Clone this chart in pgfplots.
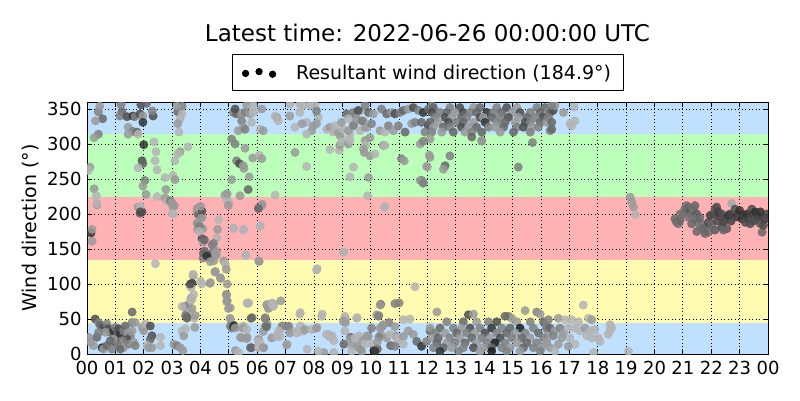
\documentclass[border=0pt]{standalone}
\usepackage{pgfplots}
\usepackage{pgfplotstable}
\pgfplotsset{compat=1.18}
\usepackage{fontspec}
\setmainfont{DejaVu Sans}
\definecolor{bandblue}{RGB}{191,224,255}
\definecolor{bandgreen}{RGB}{187,255,187}
\definecolor{bandred}{RGB}{255,178,180}
\definecolor{bandyellow}{RGB}{255,251,176}

\pgfplotstableread{
x y c
0.10 267 .6
0.05 262 .7
0.25 236 .6
0.33 226 .7
0.35 213 .6
0.14 173 .2
0.18 178 .6
0.18 161 .6
0.40 346 .5
0.55 336 .4
0.30 333 .6
0.45 354 .6
0.40 314 .5
0.25 309 .6
1.23 346 .4
1.16 340 .5
1.41 339 .3
1.62 340 .2
1.69 339 .5
1.87 343 .3
1.97 340 .6
2.33 340 .3
1.20 356 .5
1.90 356 .3
2.10 358 .4
2.30 347 .5
1.45 324 .6
1.62 318 .5
1.76 317 .4
1.45 314 .6
1.80 314 .7
1.97 331 .2
2.00 299 .2
2.36 303 .7
1.94 276 .3
1.97 272 .4
1.80 266 .7
2.43 289 .7
2.40 276 .7
2.47 263 .7
2.04 248 .5
1.97 240 .6
2.08 228 .6
2.47 225 .7
2.75 252 .7
2.78 235 .6
3.03 255 .7
3.10 249 .6
2.75 223 .6
2.82 218 .7
2.93 219 .5
3.00 215 .6
3.03 210 .6
3.00 201 .7
1.80 210 .6
1.87 201 .4
1.94 203 .3
3.20 346 .4
3.35 354 .5
3.17 354 .6
3.35 343 .7
3.28 336 .7
3.20 329 .6
3.24 317 .7
3.10 276 .7
3.28 289 .6
3.20 286 .7
3.56 296 .7
2.41 129 .7
3.88 208 .6
3.90 201 .5
4.05 196 .6
3.98 183 .7
3.90 186 .5
4.08 179 .6
4.05 165 .3
4.09 137 .5
4.09 160 .6
3.74 112 .6
3.63 98 .6
3.70 101 .2
3.67 80 .6
3.56 70 .6
3.63 75 .7
3.45 68 .5
3.52 61 .6
3.63 61 .7
3.49 54 .4
3.52 51 .5
3.77 51 .7
3.70 65 .6
3.35 68 .7
1.59 60 .4
0.29 50 .3
0.41 45 .5
0.47 41 .4
0.59 38 .3
0.70 43 .5
0.76 36 .3
0.82 31 .4
0.65 31 .6
0.94 33 .2
1.00 38 .5
1.12 36 .3
1.06 26 .4
1.17 28 .2
1.29 33 .5
1.35 40 .4
1.47 31 .6
1.53 26 .5
1.59 33 .6
1.41 21 .3
1.23 19 .5
1.00 17 .3
0.94 21 .6
0.82 19 .4
1.12 12 .5
1.29 9 .6
1.47 14 .5
1.64 17 .6
1.70 12 .5
1.59 45 .5
1.70 45 .6
0.06 24 .6
0.12 17 .6
0.23 12 .6
0.35 24 .4
0.41 31 .5
0.53 9 .2
0.59 7 .6
0.70 12 .4
0.88 7 .5
1.17 7 .4
1.94 38 .6
2.00 33 .6
2.06 43 .7
2.23 40 .3
2.29 26 .3
2.23 21 .4
2.12 12 .7
2.17 9 .6
2.29 9 .6
2.59 12 .7
2.59 24 .7
3.06 14 .6
3.17 12 .5
3.29 9 .6
3.38 5 .6
3.35 33 .7
3.41 26 .6
3.47 36 .7
3.80 38 .6
3.47 55 .5
3.53 52 .4
3.82 55 .6
3.70 78 .7
3.76 85 .7
3.67 95 .7
3.74 114 .7
3.64 100 .3
4.00 104 .7
4.05 100 .7
4.35 102 .6
4.52 118 .6
4.70 109 .6
4.82 133 .6
4.88 128 .7
4.91 121 .6
4.94 100 .6
4.91 85 .5
4.94 76 .5
5.05 66 .6
5.05 50 .7
5.05 40 .5
5.17 41 .2
5.23 5 .6
5.35 2 .7
5.41 38 .7
5.52 40 .7
5.41 24 .6
5.64 24 .6
5.64 73 .7
5.70 73 .7
5.76 9 .4
5.82 52 .5
6.05 21 .6
6.11 14 .7
6.23 9 .6
6.29 40 .5
6.35 43 .6
6.29 52 .6
6.35 71 .7
6.41 66 .6
6.53 73 .7
6.59 71 .7
6.70 26 .6
6.82 36 .7
6.88 40 .5
6.76 33 .7
7.05 14 .7
7.11 40 .6
7.23 33 .7
7.47 33 .7
7.52 59 .7
7.52 40 .7
7.64 33 .7
7.76 7 .7
8.11 38 .7
8.29 57 .7
8.35 2 .6
8.52 28 .7
8.64 26 .7
8.70 19 .7
8.70 2 .7
9.05 14 .4
9.11 50 .6
9.11 45 .6
9.29 24 .4
9.35 12 .6
9.52 52 .7
9.40 19 .7
9.58 26 .7
9.64 7 .4
9.70 19 .6
9.87 26 .6
10.05 14 .7
10.11 5 .2
10.23 7 .3
10.29 55 .6
10.35 71 .4
10.41 40 .5
10.35 28 .6
10.58 26 .7
10.64 45 .5
10.70 12 .4
10.88 26 .6
10.94 19 .7
11.00 73 .5
10.29 24 .5
10.23 17 .6
0.35 215 .7
1.88 211 .7
1.88 203 .3
3.06 200 .7
3.08 212 .6
3.00 216 .6
3.88 204 .6
3.94 199 .4
3.88 187 .6
3.90 178 .6
3.97 182 .5
4.00 206 .7
4.05 204 .3
4.03 194 .6
4.00 211 .6
3.96 175 .7
4.14 163 .4
4.14 147 .4
4.17 144 .5
4.23 140 .6
4.29 142 .4
4.35 137 .3
4.47 133 .6
4.47 147 .5
4.41 156 .5
4.56 147 .6
4.56 142 .6
4.64 192 .7
4.60 178 .6
4.58 166 .7
4.52 142 .6
4.10 144 .4
4.22 140 .2
4.34 132 .6
4.46 158 .5
4.94 220 .7
5.00 216 .7
5.17 180 .7
5.52 178 .7
5.60 142 .7
6.05 208 .5
6.17 214 .6
6.11 183 .7
6.05 133 .6
8.11 122 .7
9.05 146 .7
10.50 211 .7
5.16 345 .5
5.27 343 .4
5.22 350 .3
5.45 343 .6
5.57 345 .5
5.74 343 .6
5.86 345 .7
5.63 355 .6
5.86 355 .7
6.16 350 .6
5.45 333 .5
5.51 324 .6
5.33 319 .6
5.57 321 .5
5.80 331 .7
6.10 321 .7
6.21 319 .6
6.69 338 .6
6.74 333 .7
6.63 340 .7
7.15 340 .6
7.15 357 .7
7.50 357 .7
7.50 345 .7
7.62 355 .7
7.86 355 .7
7.74 331 .7
7.57 329 .6
7.33 324 .7
7.92 319 .6
7.74 314 .7
7.98 326 .6
8.15 338 .7
8.04 355 .7
8.09 347 .5
8.45 321 .7
8.68 319 .7
8.92 312 .6
9.27 314 .7
9.39 328 .6
9.45 342 .5
9.62 347 .7
9.74 333 .6
9.86 323 .7
9.97 309 .6
5.10 307 .5
5.22 300 .5
5.57 294 .6
5.27 276 .5
5.37 272 .3
5.51 269 .6
5.53 265 .6
5.84 280 .6
6.07 284 .7
6.16 279 .6
5.72 253 .6
5.10 249 .6
5.68 235 .4
5.39 226 .6
4.86 227 .6
4.92 222 .7
4.94 229 .6
4.98 212 .6
6.16 212 .6
6.04 208 .4
6.63 227 .7
7.33 288 .6
7.74 268 .7
5.16 179 .7
5.51 177 .7
6.10 182 .7
5.60 141 .7
6.07 132 .6
4.51 117 .6
4.71 108 .6
4.33 101 .6
4.92 84 .6
4.92 75 .6
4.98 65 .6
5.04 51 .6
5.10 37 .5
5.16 39 .2
5.22 37 .6
5.66 72 .7
6.33 70 .6
6.39 65 .6
6.51 72 .7
6.57 68 .7
6.83 76 .6
5.78 51 .4
6.27 51 .5
7.50 57 .7
5.51 37 .6
5.63 35 .7
5.45 23 .6
5.63 22 .6
5.80 9 .4
6.04 18 .7
6.04 9 .7
6.21 9 .6
6.21 32 .6
6.33 39 .4
6.51 23 .6
6.80 25 .7
6.69 25 .7
7.09 39 .5
7.15 30 .6
7.39 30 .7
7.50 32 .7
7.68 35 .6
7.04 13 .6
7.92 35 .7
8.09 37 .7
9.15 343 .4
9.39 345 .5
9.56 348 .3
9.80 355 .5
9.92 345 .4
10.09 343 .6
10.38 350 .5
10.56 343 .4
10.74 345 .6
10.85 343 .3
11.03 345 .5
11.15 348 .4
11.32 350 .6
11.50 352 .3
11.68 348 .5
11.85 345 .2
12.03 350 .4
12.15 355 .5
8.56 324 .6
8.68 317 .7
8.86 317 .6
9.03 321 .7
9.21 319 .6
9.39 326 .5
9.62 319 .7
9.80 324 .6
10.03 329 .5
10.33 319 .6
10.50 317 .7
10.62 326 .5
10.80 319 .6
10.97 326 .5
11.21 317 .4
11.44 329 .6
11.56 331 .5
11.79 331 .4
12.03 326 .3
11.91 317 .5
8.09 329 .6
8.74 326 .7
8.97 331 .6
9.21 336 .7
9.50 336 .6
9.68 333 .5
8.56 292 .7
8.89 291 .7
8.91 298 .6
8.97 303 .7
9.13 305 .7
9.21 300 .6
9.27 305 .7
9.77 288 .6
9.80 305 .6
9.82 298 .7
9.74 293 .6
9.97 283 .6
10.15 286 .7
9.39 267 .7
9.27 253 .7
9.92 252 .6
9.89 226 .7
10.44 298 .6
10.50 298 .7
11.08 279 .5
11.18 276 .6
11.79 248 .4
11.85 245 .6
12.00 267 .7
10.48 209 .7
9.03 145 .7
8.09 120 .7
11.56 96 .7
10.85 72 .5
10.33 70 .6
10.21 56 .6
10.27 54 .5
9.50 51 .7
9.09 54 .7
9.03 47 .6
8.27 54 .7
11.15 49 .7
11.38 50 .7
8.09 37 .6
8.44 28 .7
8.56 24 .7
9.09 33 .7
9.27 21 .6
9.45 23 .7
9.50 11 .6
9.80 14 .7
9.92 25 .6
10.03 37 .5
10.21 7 .5
10.33 37 .6
10.44 42 .6
10.56 23 .6
10.68 28 .7
10.85 39 .6
10.97 23 .7
11.15 25 .6
11.32 33 .6
11.50 28 .6
11.62 18 .4
11.79 11 .2
11.97 18 .5
12.09 33 .4
9.33 4 .7
9.68 4 .6
10.15 4 .2
10.85 11 .5
11.15 14 .7
8.15 4 .7
12.21 352 .4
12.79 352 .5
13.14 352 .3
13.62 352 .6
13.85 352 .4
14.44 352 .5
14.79 352 .3
15.15 352 .6
15.85 352 .5
16.14 352 .4
12.15 345 .3
12.44 345 .5
12.68 345 .4
12.97 345 .6
13.26 345 .3
13.50 345 .5
13.73 345 .4
14.09 345 .2
14.32 345 .5
14.62 345 .4
14.97 345 .6
15.26 345 .3
15.62 345 .5
15.97 345 .4
16.26 345 .6
12.27 338 .5
12.62 338 .3
12.85 338 .6
13.20 338 .4
13.38 338 .5
13.85 338 .3
13.97 338 .6
14.26 338 .4
14.56 338 .5
14.85 338 .3
15.20 338 .6
15.50 338 .4
15.79 338 .5
16.09 338 .3
12.09 331 .4
12.38 331 .6
12.74 331 .3
13.03 331 .5
13.26 331 .4
13.62 331 .6
14.03 331 .2
14.44 331 .5
14.74 331 .4
15.09 331 .6
15.44 331 .3
15.62 331 .5
15.97 331 .4
16.20 331 .6
12.21 324 .6
12.56 324 .4
12.79 324 .5
13.20 324 .3
13.44 324 .6
13.73 324 .4
14.15 324 .5
14.38 324 .6
14.68 324 .4
15.15 324 .5
15.38 324 .3
15.68 324 .6
15.91 324 .5
12.15 317 .5
12.50 317 .6
12.91 317 .4
13.32 317 .6
13.56 317 .5
13.91 317 .4
14.56 317 .6
15.03 317 .4
15.62 317 .5
12.09 307 .6
13.91 305 .5
13.56 310 .4
12.09 281 .6
12.79 283 .5
12.62 269 .4
12.56 264 .6
15.20 267 .5
11.74 248 .6
11.85 244 .5
12.06 284 .6
11.97 268 .6
13.91 304 .6
15.70 302 .5
11.74 300 .6
11.85 304 .5
12.33 60 .6
13.44 56 .3
13.62 57 .6
15.44 62 .6
15.85 60 .5
15.97 57 .6
14.85 54 .5
14.97 51 .6
14.73 54 .4
12.68 46 .5
13.26 46 .4
13.73 46 .6
14.15 46 .5
14.44 46 .3
15.15 46 .6
15.62 46 .5
16.09 46 .4
12.09 37 .6
12.44 37 .4
12.91 37 .5
13.20 37 .6
13.50 37 .3
13.85 37 .5
14.26 37 .2
14.62 37 .5
14.91 37 .4
15.26 37 .1
15.73 37 .5
16.20 37 .4
12.27 30 .5
12.62 30 .6
13.03 30 .4
13.38 30 .5
13.67 30 .6
14.03 30 .3
14.44 30 .5
14.79 30 .4
15.09 30 .6
15.44 30 .5
15.91 30 .4
16.26 30 .6
12.15 23 .6
12.38 23 .4
12.79 23 .5
13.14 23 .6
13.56 23 .4
13.91 23 .5
14.20 23 .6
14.56 23 .3
14.97 23 .5
15.32 23 .4
15.62 23 .6
16.09 23 .5
12.33 16 .4
12.68 16 .6
12.97 16 .5
13.32 16 .4
13.73 16 .6
14.09 16 .5
14.38 16 .1
14.73 16 .5
15.15 16 .6
15.50 16 .4
15.85 16 .5
16.20 16 .6
12.21 9 .5
12.56 9 .4
12.85 9 .6
13.26 9 .5
13.62 9 .3
13.97 9 .6
14.26 9 .4
14.62 9 .5
14.91 9 .6
15.38 9 .4
15.73 9 .5
16.03 9 .6
12.44 4 .2
13.09 4 .5
13.85 4 .6
14.26 4 .1
14.79 4 .5
15.26 4 .6
15.97 4 .5
16.32 345 .4
16.43 348 .3
16.26 338 .5
16.38 331 .4
16.32 319 .5
16.38 321 .4
16.79 345 .6
17.17 353 .7
17.20 333 .7
17.02 329 .7
17.08 326 .7
16.49 355 .6
16.38 355 .5
19.14 224 .6
19.20 217 .6
19.26 210 .6
19.32 199 .7
17.49 70 .7
16.26 49 .5
16.61 51 .6
16.85 49 .7
17.08 49 .7
17.32 46 .7
17.67 51 .7
17.79 49 .6
18.43 42 .7
18.49 37 .7
16.20 40 .5
16.32 37 .4
16.49 33 .6
16.67 37 .5
16.79 30 .6
16.96 37 .7
17.20 37 .7
17.38 33 .7
17.55 37 .6
17.73 33 .7
17.90 35 .7
17.61 26 .7
17.79 23 .7
18.02 23 .7
18.37 28 .7
18.43 33 .7
18.08 18 .7
16.43 26 .5
16.73 23 .6
17.02 23 .7
17.20 14 .7
16.20 18 .6
16.32 9 .6
16.49 4 .7
16.96 11 .6
17.85 2 .7
19.08 4 .7
16.61 14 .6
20.72 193 .4
20.78 188 .4
20.84 186 .45
20.90 191 .4
21.07 207 .4
21.13 212 .45
21.19 210 .4
21.25 203 .35
21.31 198 .4
21.37 207 .45
21.43 212 .4
21.49 200 .35
21.43 193 .45
21.54 188 .4
21.60 184 .5
21.66 186 .45
21.72 179 .4
21.78 177 .45
21.84 181 .4
21.90 174 .45
21.78 172 .4
21.49 175 .4
21.90 188 .3
21.96 198 .25
22.07 200 .3
22.13 207 .35
22.19 210 .3
22.25 203 .25
22.31 196 .2
22.37 200 .3
22.43 188 .25
22.49 193 .3
22.55 179 .35
22.37 181 .3
22.43 177 .4
22.60 198 .2
22.66 200 .25
22.72 215 .65
22.84 207 .3
22.90 196 .2
22.96 200 .25
23.02 198 .3
23.08 193 .2
23.14 198 .25
23.20 188 .3
23.26 200 .2
23.31 193 .25
23.43 207 .3
23.49 200 .25
23.55 203 .2
23.61 193 .3
23.67 196 .25
23.73 186 .35
23.79 174 .4
23.84 184 .3
23.90 193 .25
23.96 200 .3
23.73 203 .2
23.37 186 .3
22.02 186 .4
22.13 177 .35
21.31 186 .4
21.00 200 .4
21.20 195 .45
22.70 190 .25
23.00 205 .2
23.50 190 .3
22.20 190 .3
21.60 195 .4
20.90 200 .45
}\winddata

\begin{document}
\begin{tikzpicture}
\path (0,0) rectangle (800pt,400pt);
\begin{axis}[
  at={(87pt,46pt)}, anchor=south west,
  scale only axis, width=681pt, height=252pt,
  xmin=0, xmax=24, ymin=0, ymax=360,
  set layers=standard,
  xtick={0,1,...,24},
  xticklabels={00,01,02,03,04,05,06,07,08,09,10,11,12,13,14,15,16,17,18,19,20,21,22,23,00},
  ytick={0,50,...,350},
  tick label style={font=\fontsize{18}{20}\selectfont},
  xticklabel style={yshift=-4pt},
  yticklabel style={xshift=-2pt},
  /pgf/number format/assume math mode=true,
  tick align=inside, major tick length=5pt,
  every tick/.style={black, line width=0.8pt},
  grid=major,
  major grid style={black, line width=0.8pt, dash pattern=on 1pt off 2.5pt},
  axis line style={black, line width=1pt},
  ylabel={Wind direction (°)},
  ylabel style={font=\fontsize{19}{22}\selectfont, at={(axis description cs:-0.083,0.5)}, anchor=center},
  colormap={grays}{gray(0cm)=(0); gray(1cm)=(1)},
  point meta min=0, point meta max=1,
  clip marker paths=true,
  legend style={at={(0.5,1)}, anchor=south, yshift=11pt, draw=black, line width=0.8pt,
    font=\fontsize{19}{22}\selectfont, inner xsep=10pt, inner ysep=8pt,
    /tikz/every odd column/.append style={column sep=18pt}},
  legend image code/.code={%
    \fill[black] (3pt,-0.8pt) circle (3.2pt);
    \fill[black] (16.5pt,1pt) circle (3.2pt);
    \fill[black] (30pt,-1.6pt) circle (3.2pt);},
]
\addplot[fill=bandblue, draw=none, forget plot, on layer=axis background] coordinates {(0,0) (24,0) (24,45) (0,45)};
\addplot[fill=bandyellow, draw=none, forget plot, on layer=axis background] coordinates {(0,45) (24,45) (24,135) (0,135)};
\addplot[fill=bandred, draw=none, forget plot, on layer=axis background] coordinates {(0,135) (24,135) (24,225) (0,225)};
\addplot[fill=bandgreen, draw=none, forget plot, on layer=axis background] coordinates {(0,225) (24,225) (24,315) (0,315)};
\addplot[fill=bandblue, draw=none, forget plot, on layer=axis background] coordinates {(0,315) (24,315) (24,360) (0,360)};
\addplot[scatter, only marks, mark=*, mark size=4.2pt, scatter src=explicit,
  scatter/use mapped color={draw=mapped color, fill=mapped color, draw opacity=0.85, fill opacity=0.85}]
  table[x=x, y=y, meta=c] {\winddata};
\addlegendentry{Resultant wind direction (184.9°)}
\end{axis}
\node[anchor=base, font=\fontsize{23}{26}\selectfont] at (427.5pt,358pt) {Latest time: 2022-06-26 00:00:00 UTC};
\end{tikzpicture}
\end{document}
